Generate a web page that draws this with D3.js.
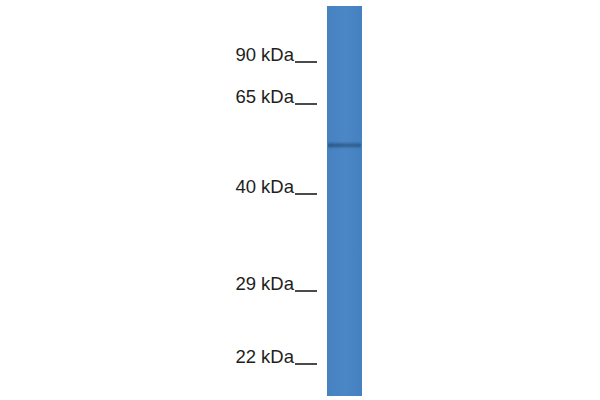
<!DOCTYPE html>
<html>
<head>
<meta charset="utf-8">
<script src="https://cdn.jsdelivr.net/npm/d3@7"></script>
<style>
  body { margin: 0; background: #fff; }
  svg { display: block; }
</style>
</head>
<body>
<div id="blot"></div>
<script>
const width = 600;
const height = 400;

// marker ladder (kDa) and where each sits down the lane
const markers = [90, 65, 40, 29, 22];
const markerLabels = ["90 kDa", "65 kDa", "40 kDa", "29 kDa", "22 kDa"];
const markerY = [62, 104, 194, 291, 364];

// detected bands in the single lane
const bandKda = [52];
const bandIntensity = [0.85];

const lane = { x0: 327, x1: 362, top: 6, bottom: 396 };

// piecewise log scale, gel migration is not quite log-linear
const y = d3.scaleLog().domain(markers).range(markerY);

const svg = d3.select("#blot")
  .append("svg")
  .attr("width", width)
  .attr("height", height);

const defs = svg.append("defs");

const laneGrad = defs.append("linearGradient")
  .attr("id", "laneGrad")
  .attr("x1", 0).attr("x2", 1).attr("y1", 0).attr("y2", 0);
laneGrad.append("stop").attr("offset", "0%").attr("stop-color", "#4681c0");
laneGrad.append("stop").attr("offset", "50%").attr("stop-color", "#4b87c6");
laneGrad.append("stop").attr("offset", "100%").attr("stop-color", "#4581c0");

const bandGrad = defs.append("linearGradient")
  .attr("id", "bandGrad")
  .attr("x1", 0).attr("x2", 1).attr("y1", 0).attr("y2", 0);
bandGrad.append("stop").attr("offset", "0%").attr("stop-color", "#27507d");
bandGrad.append("stop").attr("offset", "60%").attr("stop-color", "#2f5c8c");
bandGrad.append("stop").attr("offset", "100%").attr("stop-color", "#2b5788");

defs.append("filter")
  .attr("id", "blur")
  .attr("x", "-20%").attr("y", "-200%").attr("width", "140%").attr("height", "500%")
  .append("feGaussianBlur")
  .attr("stdDeviation", "0.7 1.2");

svg.append("rect")
  .attr("x", lane.x0)
  .attr("y", lane.top)
  .attr("width", lane.x1 - lane.x0)
  .attr("height", lane.bottom - lane.top)
  .attr("fill", "url(#laneGrad)");

svg.append("g")
  .selectAll("rect")
  .data(bandKda)
  .join("rect")
  .attr("x", lane.x0 + 1)
  .attr("width", lane.x1 - lane.x0 - 2)
  .attr("y", d => y(d) - 2)
  .attr("height", 4)
  .attr("rx", 1.5)
  .attr("fill", "url(#bandGrad)")
  .attr("opacity", (d, i) => bandIntensity[i])
  .attr("filter", "url(#blur)");

const ladder = svg.append("g")
  .selectAll("g")
  .data(markers)
  .join("g")
  .attr("transform", d => `translate(0,${y(d)})`);

ladder.append("text")
  .attr("x", 294)
  .attr("y", -1.5)
  .attr("text-anchor", "end")
  .attr("font-family", "Liberation Sans, Arial, sans-serif")
  .attr("font-size", 18.5)
  .attr("fill", "#1e1e1e")
  .text((d, i) => markerLabels[i]);

ladder.append("line")
  .attr("x1", 295)
  .attr("x2", 317)
  .attr("y1", 0)
  .attr("y2", 0)
  .attr("stroke", "#1e1e1e")
  .attr("stroke-width", 1.6);
</script>
</body>
</html>
